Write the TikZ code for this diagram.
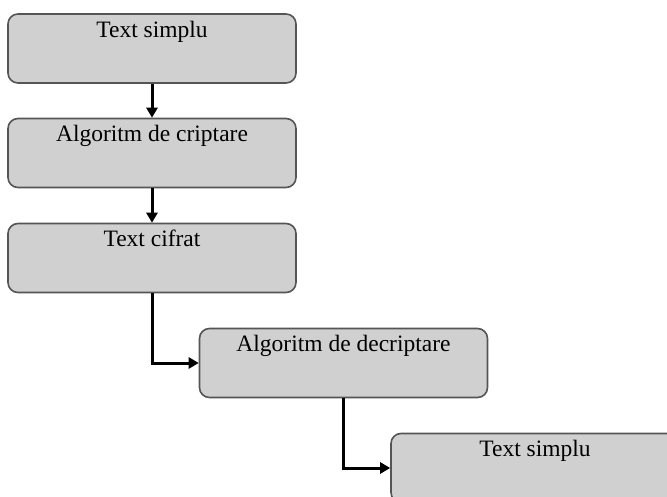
\documentclass[tikz,border=0pt]{standalone}
\usepackage{fontspec}
\setmainfont{Liberation Serif}
\usetikzlibrary{arrows.meta}
\definecolor{boxfill}{HTML}{D0D0D0}
\definecolor{boxline}{HTML}{555555}
\begin{document}
\begin{tikzpicture}[x=1pt, y=-1pt,
        box/.style={rectangle, rounded corners=10pt, draw=boxline, line width=1.6pt, fill=boxfill,
            minimum width=288pt, minimum height=69pt, inner sep=0pt},
        txt/.style={anchor=base, yshift=-24pt, font=\fontsize{23.5}{27}\selectfont},
        flow/.style={line width=3pt, -{Triangle[length=10pt, width=11pt]}}]
        \useasboundingbox (0,0) rectangle (667,497);
        \clip (0,0) rectangle (667,497);

        % Define nodes
        \node[box, label={[txt]north:Text simplu}]            (plain1)  at (152, 48.5) {};
        \node[box, label={[txt]north:Algoritm de criptare}]   (encrypt) at (152, 153) {};
        \node[box, label={[txt]north:Text cifrat}]            (cipher)  at (152, 258) {};
        \node[box, label={[txt]north:Algoritm de decriptare}] (decrypt) at (343.5, 363) {};
        \node[box, label={[txt]north:Text simplu}]            (plain2)  at (535, 468) {};

        % Draw edges
        \draw[flow] (plain1) -- (encrypt);
        \draw[flow] (encrypt) -- (cipher);
        \draw[flow] (cipher.south) |- (decrypt.west);
        \draw[flow] (decrypt.south) |- (plain2.west);
    \end{tikzpicture}
\end{document}
